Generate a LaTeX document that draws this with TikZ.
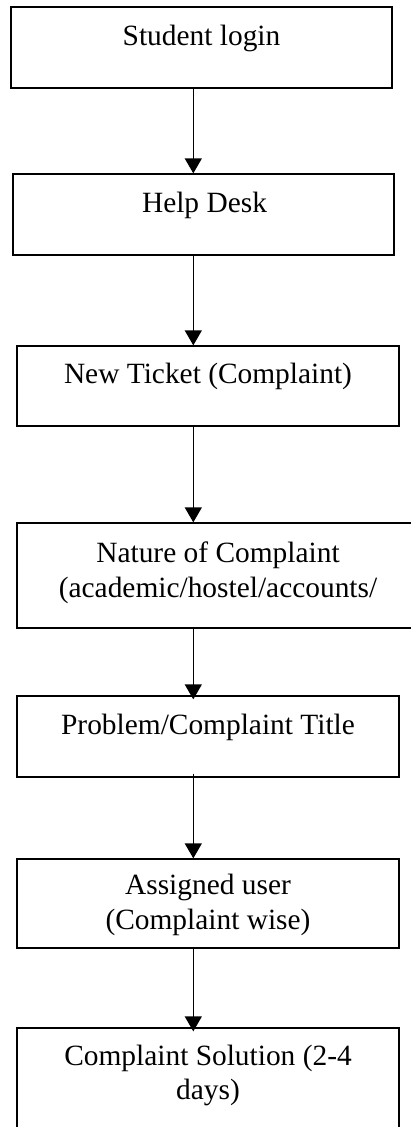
\documentclass[tikz,border=0pt]{standalone}
\usepackage{fontspec}
\setmainfont{Liberation Serif}
\usetikzlibrary{arrows.meta}

\begin{document}
\begin{tikzpicture}[x=1pt, y=-1pt,
  box/.style={draw=black, line width=1.3pt, rectangle, inner sep=0pt, fill=none},
  txt/.style={inner sep=0pt, align=center, anchor=base,
    font=\fontsize{29.4}{34.5}\selectfont},
  flow/.style={draw=black, line width=1.3pt,
    -{Triangle[width=17pt,length=15pt]}}]

  % page area
  \useasboundingbox (0,0) rectangle (411,1127);
  \clip (0,0) rectangle (411,1127);

  % process boxes
  \node[box, minimum width=381pt, minimum height=81pt]  (b1) at (201.5,47.5)  {};
  \node[box, minimum width=381pt, minimum height=81pt]  (b2) at (203.5,214.5) {};
  \node[box, minimum width=382pt, minimum height=80pt]  (b3) at (208,386)     {};
  \node[box, minimum width=402pt, minimum height=105pt] (b4) at (218,575.5)   {};
  \node[box, minimum width=382pt, minimum height=81pt]  (b5) at (208,736.5)   {};
  \node[box, minimum width=382pt, minimum height=89pt]  (b6) at (208,903.5)   {};
  \node[box, minimum width=382pt, minimum height=122pt] (b7) at (208,1089)    {};

  % box captions (base anchor = baseline of the last line)
  \node[txt] (t1) at ([yshift=-39.5pt]b1.north) {Student login};
  \node[txt] (t2) at ([yshift=-39pt,xshift=1pt]b2.north) {Help Desk};
  \node[txt] (t3) at ([yshift=-38.5pt]b3.north) {New Ticket (Complaint)};
  \node[txt] (t4) at ([yshift=-75pt]b4.north) {Nature of Complaint\\(academic/hostel/accounts/};
  \node[txt] (t5) at ([yshift=-39pt]b5.north) {Problem/Complaint Title};
  \node[txt] (t6) at ([yshift=-71pt]b6.north) {Assigned user\\(Complaint wise)};
  \node[txt] (t7) at ([yshift=-72.5pt]b7.north) {Complaint Solution (2-4\\days)};

  % connector column
  \coordinate (ax) at (193.3,0);

  \draw[flow] (b1.south -| ax) -- (b2.north -| ax);
  \draw[flow] (b2.south -| ax) -- (b3.north -| ax);
  \draw[flow] (b3.south -| ax) -- (b4.north -| ax);
  \draw[flow, shorten >=-4pt] (b4.south -| ax) -- (b5.north -| ax);
  \draw[flow, shorten <=-4pt] (b5.south -| ax) -- (b6.north -| ax);
  \draw[flow, shorten >=-4pt] (b6.south -| ax) -- (b7.north -| ax);
\end{tikzpicture}
\end{document}
